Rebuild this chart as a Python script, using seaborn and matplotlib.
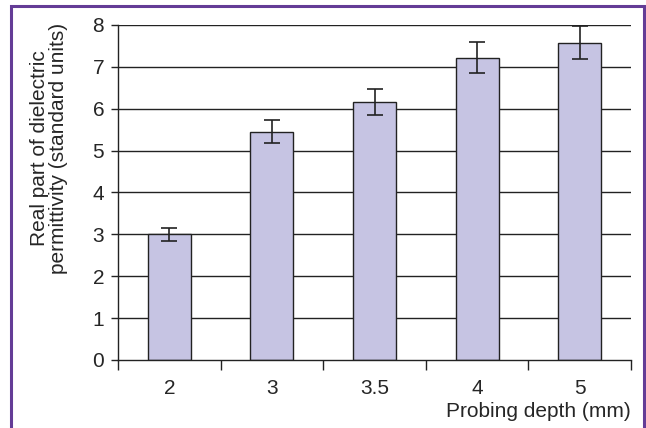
import matplotlib
matplotlib.use("Agg")
import seaborn as sns
import matplotlib.pyplot as plt
import pandas as pd
from matplotlib.patches import Rectangle

depths = ["2", "3", "3.5", "4", "5"]
permittivity = [3.0, 5.45, 6.16, 7.22, 7.58]
errors = [0.16, 0.27, 0.32, 0.37, 0.39]
y_ticks = [0, 1, 2, 3, 4, 5, 6, 7, 8]

df = pd.DataFrame({"depth": depths, "eps": permittivity, "err": errors})

sns.set_style("white")
plt.rcParams["font.family"] = ["Liberation Sans", "DejaVu Sans"]

fig = plt.figure(figsize=(6.46, 4.28), dpi=100)
ax = fig.add_axes([0.1827, 0.1589, 0.7941, 0.7827])

sns.barplot(data=df, x="depth", y="eps", order=depths, color="#c6c4e3",
            width=0.42, edgecolor="#222222", linewidth=1.0, saturation=1,
            errorbar=None, ax=ax, zorder=2)
ax.errorbar(range(len(depths)), df["eps"], yerr=df["err"], fmt="none",
            ecolor="#222222", elinewidth=1.2, capsize=5.5, capthick=1.2, zorder=3)

ax.set_xlim(-0.5, len(depths) - 0.5)
ax.set_ylim(0, 8)
ax.set_yticks(y_ticks)
for y in y_ticks[1:]:
    ax.axhline(y, color="#222222", lw=1.0, zorder=1)

# category boundary ticks like Excel, labels in between
ax.set_xticks([i - 0.5 for i in range(len(depths) + 1)])
ax.set_xticklabels([])
ax.set_xticks(range(len(depths)), minor=True)
ax.set_xticklabels(depths, minor=True)
ax.tick_params(axis="x", which="major", direction="out", length=7, width=1.0,
               color="#222222", bottom=True)
ax.tick_params(axis="x", which="minor", length=0, labelsize=15, pad=14)
ax.tick_params(axis="y", direction="out", length=5, width=1.0, color="#222222",
               left=True, labelsize=15, pad=5)

for s in ["top", "right"]:
    ax.spines[s].set_visible(False)
for s in ["left", "bottom"]:
    ax.spines[s].set_color("#222222")
    ax.spines[s].set_linewidth(1.0)

ax.set_ylabel("Real part of dielectric\npermittivity (standard units)",
              fontsize=15, linespacing=1.0)
ax.yaxis.set_label_coords(-0.097, 0.633)
ax.set_xlabel("Probing depth (mm)", fontsize=15, ha="right")
ax.xaxis.set_label_coords(1.0, -0.125)

fig.patches.append(Rectangle((11 / 646, -0.1), 633 / 646, 1.1 - 6 / 428,
                             transform=fig.transFigure, fill=False,
                             edgecolor="#643c96", linewidth=2.2))

fig.savefig("out.png", dpi=100)
